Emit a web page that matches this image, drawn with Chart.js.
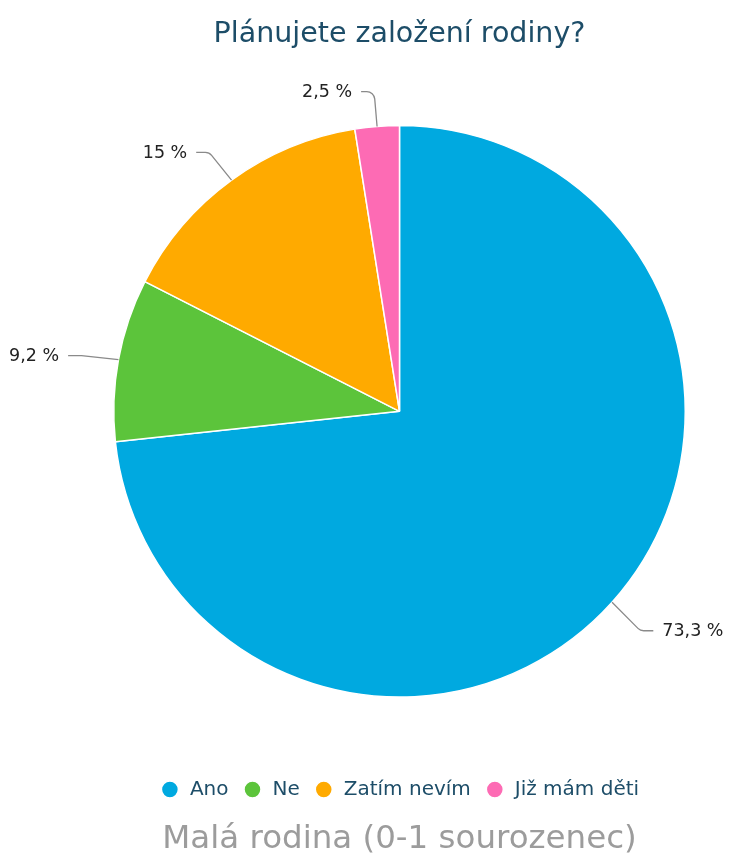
<!DOCTYPE html>
<html>
<head>
<meta charset="utf-8">
<script src="https://cdn.jsdelivr.net/npm/chart.js@4"></script>
<style>
  html, body { margin: 0; padding: 0; background: #fff; }
  #wrap { width: 731px; height: 859px; position: relative; }
</style>
</head>
<body>
<div id="wrap"><canvas id="chart-rodina"></canvas></div>
<script>
// ── Data ──
const categories = ['Ano', 'Ne', 'Zatím nevím', 'Již mám děti'];
const shares = [73.3, 9.2, 15, 2.5];
const shareLabels = ['73,3 %', '9,2 %', '15 %', '2,5 %'];
const sliceColors = ['#00a9e0', '#5cc43b', '#ffaa00', '#fd6bb4'];

const FONT = '"DejaVu Sans", "Open Sans", sans-serif';
const TEXT_DARK = '#1d4d68';

// Highcharts-like outside labels with bent connectors
const outsideLabels = {
  id: 'outsideLabels',
  afterDatasetsDraw(chart) {
    const ctx = chart.ctx;
    const meta = chart.getDatasetMeta(0);
    ctx.save();
    ctx.font = '17.5px ' + FONT;
    ctx.textBaseline = 'middle';
    meta.data.forEach((arc, i) => {
      const mid = (arc.startAngle + arc.endAngle) / 2;
      const r = arc.outerRadius;
      const cx = arc.x, cy = arc.y;
      const dx = Math.cos(mid), dy = Math.sin(mid);
      const p0 = { x: cx + dx * r, y: cy + dy * r };
      const p1 = { x: cx + dx * (r + 38), y: cy + dy * (r + 38) + 3 };
      const side = dx >= 0 ? 1 : -1;
      const p2 = { x: p1.x + side * 13, y: p1.y };

      ctx.beginPath();
      ctx.moveTo(p2.x, p2.y);
      ctx.arcTo(p1.x, p1.y, p0.x, p0.y, 8);
      ctx.lineTo(p0.x, p0.y);
      ctx.strokeStyle = '#8a8a8a';
      ctx.lineWidth = 1.3;
      ctx.stroke();

      ctx.fillStyle = '#222';
      ctx.textAlign = side > 0 ? 'left' : 'right';
      ctx.fillText(shareLabels[i], p2.x + side * 9, p2.y + 1);
    });
    ctx.restore();
  }
};

new Chart(document.getElementById('chart-rodina'), {
  type: 'pie',
  data: {
    labels: categories,
    datasets: [{
      data: shares,
      backgroundColor: sliceColors,
      borderColor: '#ffffff',
      borderWidth: 1.5
    }]
  },
  options: {
    responsive: true,
    maintainAspectRatio: false,
    animation: false,
    layout: { padding: { left: 113, right: 45, top: 0, bottom: 0 } },
    plugins: {
      title: {
        display: true,
        text: 'Plánujete založení rodiny?',
        color: TEXT_DARK,
        font: { family: FONT, size: 28.5, weight: 'normal' },
        padding: { top: 17, bottom: 6 }
      },
      subtitle: {
        display: true,
        position: 'bottom',
        text: 'Malá rodina (0-1 sourozenec)',
        color: '#9c9c9c',
        font: { family: FONT, size: 32.5, weight: 'normal' },
        padding: { top: 10.5, bottom: 0 }
      },
      legend: {
        position: 'bottom',
        labels: {
          usePointStyle: true,
          pointStyle: 'circle',
          boxHeight: 12,
          padding: 14,
          color: TEXT_DARK,
          font: { family: FONT, size: 20 }
        }
      },
      tooltip: { enabled: false }
    }
  },
  plugins: [outsideLabels]
});
</script>
</body>
</html>
